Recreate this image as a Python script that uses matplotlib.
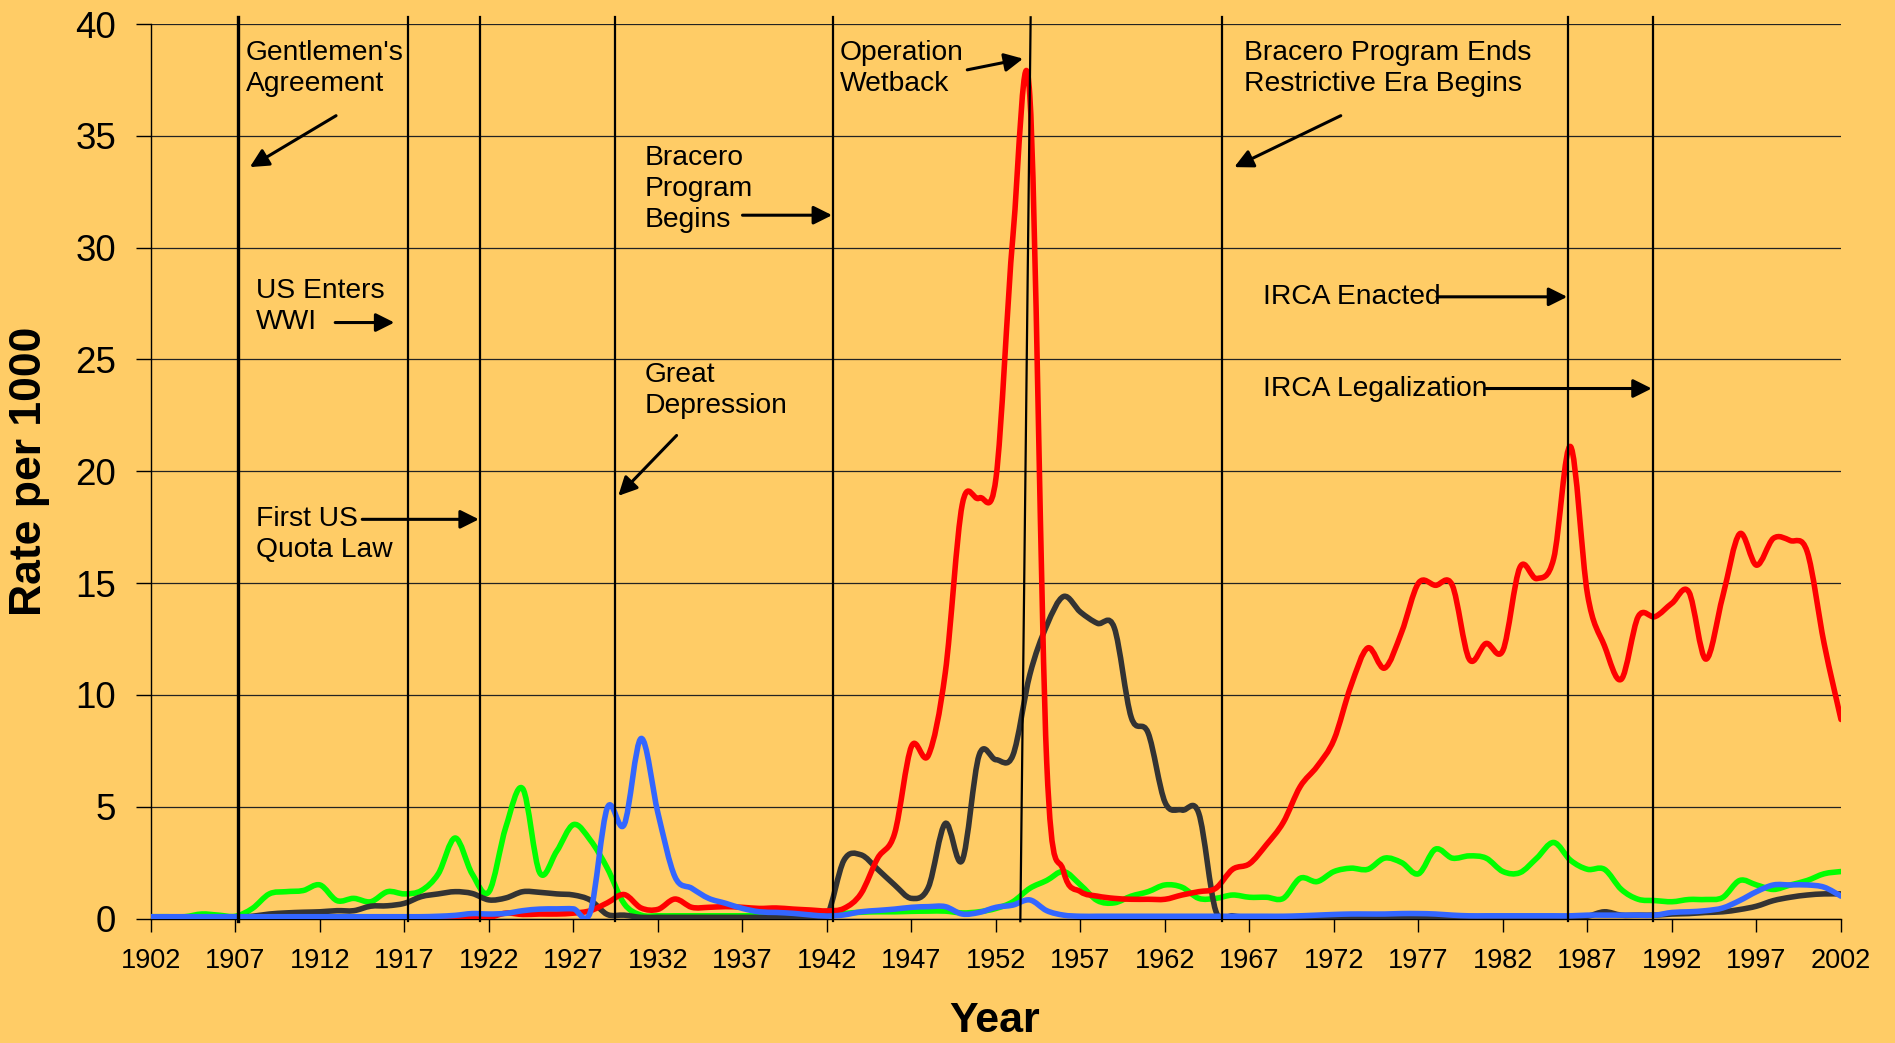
import matplotlib
matplotlib.use("Agg")
import matplotlib.pyplot as plt
import numpy as np
from matplotlib.path import Path
from matplotlib.patches import PathPatch

plt.rcParams['font.family'] = ['Liberation Sans', 'DejaVu Sans']

# --- data (rate per 1000), one value per year 1902..2002 ---
years = np.arange(1902, 2003)

red_rate = [
    0, 0, 0, 0, 0, 0, 0, 0, 0, 0,
    0, 0, 0, 0, 0, 0, 0, 0, 0.02, 0.03,
    0.05, 0.24, 0.18, 0.2, 0.2, 0.24, 0.35, 0.7, 1.07, 0.47,
    0.41, 0.87, 0.5, 0.5, 0.53, 0.5, 0.45, 0.47, 0.42, 0.38,
    0.34, 0.45, 1.1, 2.7, 3.8, 7.7, 7.3, 11.0, 18.5, 18.8,
    19.7, 30.5, 36.8, 7.0, 2.1, 1.2, 1.0, 0.9, 0.86, 0.86,
    0.86, 1.05, 1.2, 1.35, 2.2, 2.45, 3.3, 4.3, 5.9, 6.8,
    8.0, 10.4, 12.1, 11.2, 12.8, 15.0, 14.9, 14.9, 11.6, 12.3,
    12.0, 15.7, 15.2, 16.1, 21.1, 14.5, 12.2, 10.7, 13.5, 13.5,
    14.1, 14.6, 11.6, 14.4, 17.2, 15.8, 17.0, 16.9, 16.4, 12.3,
    8.9,
]

black_rate = [
    0.05, 0.05, 0.05, 0.05, 0.05, 0.05, 0.1, 0.2, 0.25, 0.28,
    0.3, 0.35, 0.35, 0.55, 0.57, 0.68, 0.98, 1.1, 1.2, 1.12,
    0.83, 0.92, 1.2, 1.17, 1.1, 1.05, 0.82, 0.18, 0.15, 0.05,
    0.05, 0.05, 0.05, 0.05, 0.05, 0.05, 0.05, 0.05, 0.05, 0.05,
    0.12, 2.6, 2.85, 2.2, 1.5, 0.9, 1.4, 4.25, 2.6, 7.3,
    7.1, 7.3, 10.9, 13.1, 14.4, 13.7, 13.2, 13.0, 9.0, 8.3,
    5.2, 4.85, 4.7, 0.35, 0.12, 0.05, 0.05, 0.05, 0.05, 0.05,
    0.05, 0.05, 0.05, 0.05, 0.05, 0.05, 0.05, 0.05, 0.05, 0.05,
    0.05, 0.05, 0.05, 0.05, 0.05, 0.1, 0.3, 0.15, 0.15, 0.15,
    0.2, 0.22, 0.27, 0.3, 0.4, 0.55, 0.8, 0.95, 1.05, 1.1,
    1.1,
]

green_rate = [
    0.08, 0.08, 0.08, 0.2, 0.15, 0.1, 0.45, 1.1, 1.2, 1.25,
    1.5, 0.8, 0.9, 0.75, 1.2, 1.1, 1.25, 2.0, 3.6, 2.0,
    1.2, 4.1, 5.8, 2.05, 3.0, 4.2, 3.5, 2.25, 0.66, 0.15,
    0.12, 0.12, 0.12, 0.12, 0.12, 0.12, 0.12, 0.12, 0.12, 0.12,
    0.12, 0.22, 0.28, 0.3, 0.3, 0.32, 0.33, 0.33, 0.25, 0.3,
    0.45, 0.75, 1.35, 1.7, 2.1, 1.5, 0.8, 0.7, 1.0, 1.2,
    1.5, 1.4, 0.9, 0.9, 1.05, 0.95, 0.95, 0.9, 1.8, 1.65,
    2.1, 2.25, 2.2, 2.7, 2.5, 2.0, 3.1, 2.7, 2.8, 2.7,
    2.1, 2.05, 2.7, 3.4, 2.6, 2.2, 2.2, 1.3, 0.86, 0.8,
    0.75, 0.85, 0.85, 0.94, 1.7, 1.5, 1.3, 1.5, 1.7, 2.0,
    2.1,
]

blue_rate = [
    0.08, 0.08, 0.08, 0.08, 0.08, 0.08, 0.08, 0.08, 0.08, 0.08,
    0.08, 0.08, 0.08, 0.08, 0.08, 0.08, 0.08, 0.1, 0.14, 0.22,
    0.2, 0.23, 0.35, 0.42, 0.43, 0.43, 0.3, 4.95, 4.2, 8.05,
    4.7, 1.87, 1.35, 0.9, 0.68, 0.45, 0.3, 0.27, 0.23, 0.16,
    0.11, 0.16, 0.3, 0.36, 0.42, 0.5, 0.53, 0.53, 0.2, 0.27,
    0.5, 0.6, 0.83, 0.35, 0.15, 0.1, 0.1, 0.1, 0.1, 0.1,
    0.1, 0.1, 0.1, 0.1, 0.1, 0.1, 0.1, 0.1, 0.12, 0.15,
    0.18, 0.2, 0.2, 0.2, 0.22, 0.22, 0.2, 0.15, 0.12, 0.12,
    0.12, 0.12, 0.12, 0.12, 0.12, 0.15, 0.15, 0.15, 0.15, 0.15,
    0.27, 0.3, 0.35, 0.47, 0.8, 1.2, 1.5, 1.5, 1.5, 1.4,
    1.0,
]

# event marker lines (year positions as drawn)
event_years = [1907.15, 1917.2, 1921.46, 1929.45, 1942.34, 1965.4, 1985.82, 1990.85]

# annotations: text, text position (year, rate), arrow tail, arrow head
notes = [
    ("Gentlemen's\nAgreement", (1907.6, 38.0), (1912.95, 35.9), (1907.85, 33.6)),
    ("US Enters\nWWI", (1908.2, 27.35), (1912.9, 26.65), (1916.4, 26.65)),
    ("First US\nQuota Law", (1908.2, 17.15), (1914.5, 17.85), (1921.4, 17.85)),
    ("Great\nDepression", (1931.2, 23.6), (1933.1, 21.6), (1929.65, 18.9)),
    ("Bracero\nProgram\nBegins", (1931.2, 32.6), (1937.0, 31.45), (1942.3, 31.45)),
    ("Operation\nWetback", (1942.75, 38.0), (1950.3, 37.95), (1953.6, 38.45)),
    ("Bracero Program Ends\nRestrictive Era Begins", (1966.65, 38.0), (1972.4, 35.9), (1966.1, 33.6)),
    ("IRCA Enacted", (1967.8, 27.8), (1978.1, 27.8), (1985.8, 27.8)),
    ("IRCA Legalization", (1967.8, 23.7), (1981.0, 23.7), (1990.8, 23.7)),
]


def smooth_path(x, y):
    # Excel style smoothed line: cubic Bezier through every data point
    x = np.asarray(x, float)
    y = np.asarray(y, float)
    px = np.concatenate([[x[0]], x, [x[-1]]])
    py = np.concatenate([[y[0]], y, [y[-1]]])
    verts = [(x[0], y[0])]
    codes = [Path.MOVETO]
    for i in range(1, len(px) - 2):
        c1 = (px[i] + (px[i + 1] - px[i - 1]) / 6, py[i] + (py[i + 1] - py[i - 1]) / 6)
        c2 = (px[i + 1] - (px[i + 2] - px[i]) / 6, py[i + 1] - (py[i + 2] - py[i]) / 6)
        verts += [c1, c2, (px[i + 1], py[i + 1])]
        codes += [Path.CURVE4] * 3
    return Path(verts, codes)


bg = '#FFCC66'
fig = plt.figure(figsize=(18.95, 10.43), dpi=100, facecolor=bg)
ax = fig.add_axes([151 / 1895, 124.5 / 1043, 1690 / 1895, 894.5 / 1043])
ax.set_facecolor(bg)

ax.set_xlim(1902, 2002)
ax.set_ylim(0, 40)

for vals, col in [(green_rate, '#00FF00'), (black_rate, '#333333'),
                  (red_rate, '#FF0000'), (blue_rate, '#3366FF')]:
    ax.add_patch(PathPatch(smooth_path(years, vals), facecolor='none',
                           edgecolor=col, lw=4.0, capstyle='round',
                           joinstyle='round', zorder=4))

# grid
ax.set_yticks(np.arange(0, 41, 5))
ax.set_xticks(np.arange(1902, 2003, 5))
ax.yaxis.grid(True, color='#222222', lw=0.9)
ax.set_axisbelow(True)
for s in ['top', 'right']:
    ax.spines[s].set_visible(False)
ax.spines['left'].set_linewidth(1.0)
ax.spines['bottom'].set_linewidth(1.0)
ax.tick_params(axis='y', direction='out', length=11, width=1, labelsize=26.5, pad=14)
ax.tick_params(axis='x', direction='out', length=9, width=1, labelsize=19.5, pad=12)

# event lines
for i, ey in enumerate(event_years):
    ax.plot([ey, ey], [-0.12, 40.3], color='black', lw=2.4 if i == 0 else 1.6,
            clip_on=False, zorder=5)
ax.plot([1953.44, 1954.05], [-0.12, 40.3], color='black', lw=1.6, clip_on=False, zorder=5)

for txt, pos, tail, head in notes:
    ax.text(pos[0], pos[1], txt, fontsize=20.3, ha='left', va='center',
            linespacing=1.25, zorder=6)
    ax.annotate('', xy=head, xytext=tail,
                arrowprops=dict(arrowstyle='-|>', color='black', lw=2.2,
                                mutation_scale=28, shrinkA=0, shrinkB=0),
                zorder=6)

fig.text(994.6 / 1895, 1 - 1021 / 1043, 'Year', fontsize=31, fontweight='bold',
         ha='center', va='center')
fig.text(30 / 1895, 1 - 471 / 1043, 'Rate per 1000', fontsize=32, fontweight='bold',
         ha='center', va='center', rotation=90)

fig.savefig('out.png', dpi=100, facecolor=bg)
